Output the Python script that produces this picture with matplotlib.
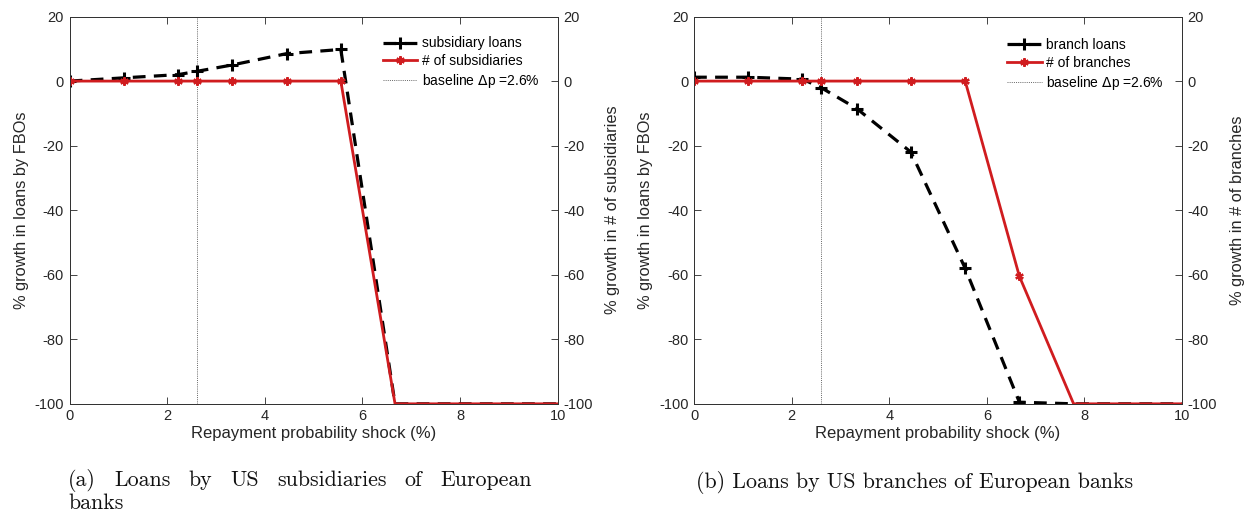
import numpy as np
import matplotlib.pyplot as plt

plt.rcParams['font.family'] = ['Liberation Sans', 'DejaVu Sans']

# shock grid (%)
shock = [0, 1.111, 2.222, 2.6, 3.333, 4.444, 5.556, 6.667, 7.778, 8.889, 10]
baseline = 2.6

# panel (a): subsidiaries
sub_loans = [0, 1.0, 2.0, 3.0, 5.0, 8.5, 9.8, -100, -100, -100, -100]
sub_count = [0, 0, 0, 0, 0, 0, 0, -100, -100, -100, -100]

# panel (b): branches
br_loans = [1.2, 1.2, 0.6, -2.0, -8.5, -22.0, -58.0, -99.5, -100, -100, -100]
br_count = [0, 0, 0, 0, 0, 0, 0, -60.5, -100, -100, -100]

xticks = [0, 2, 4, 6, 8, 10]
yticks = [20, 0, -20, -40, -60, -80, -100]

RED = '#d01c1f'
SPINE = '#333333'
TXT = '#262626'


def style(ax, right=False):
    ax.set_xlim(0, 10)
    ax.set_ylim(-100, 20)
    ax.set_xticks(xticks)
    ax.set_yticks(yticks)
    ax.set_yticklabels([str(t) for t in yticks])
    ax.tick_params(direction='in', length=5, width=0.6, labelsize=10.5,
                   colors=TXT, top=True, pad=4)
    if right:
        ax.tick_params(axis='y', left=False, right=True, labelleft=False, labelright=True)
    for s in ax.spines.values():
        s.set_color(SPINE)
        s.set_linewidth(0.7)


def inside(vals):
    # markers sitting on the -100 edge are clipped away in the original
    return [i for i, v in enumerate(vals) if v > -100]


def panel(ax, loans, count, loans_lbl, count_lbl, right_ylabel, leg_anchor):
    ax2 = ax.twinx()
    style(ax)
    style(ax2, right=True)
    ax.tick_params(axis='y', right=False)

    ax.axvline(baseline, color='#666666', lw=0.7, ls=(0, (1, 1.2)))
    h1, = ax.plot(shock, loans, color='black', lw=2.3, ls=(0, (4, 2.6)),
                  marker='+', ms=8, mew=2.2, markevery=inside(loans), label=loans_lbl)
    h2, = ax2.plot(shock, count, color=RED, lw=2.0,
                   marker=(6, 2, 0), ms=6, mew=1.6, markevery=inside(count), label=count_lbl)
    h3, = ax.plot([], [], color='#666666', lw=0.7, ls=(0, (1, 1.2)),
                  label='baseline $\\Delta$p =2.6%')

    ax.set_xlabel('Repayment probability shock (%)', fontsize=12, color=TXT, labelpad=2)
    ax.set_ylabel('% growth in loans by FBOs', fontsize=11.8, color=TXT, labelpad=4)
    ax2.set_ylabel(right_ylabel, fontsize=11.8, color=TXT, labelpad=9)

    ax.legend(handles=[h1, h2, h3], loc='upper left', bbox_to_anchor=leg_anchor,
              frameon=False, fontsize=10, handlelength=2.5, handletextpad=0.3,
              labelspacing=0.28, borderaxespad=0)


fig = plt.figure(figsize=(12.44, 5.12), dpi=100)
axa = fig.add_axes([0.0560, 0.2113, 0.3923, 0.7564])
axb = fig.add_axes([0.5579, 0.2113, 0.3923, 0.7564])

panel(axa, sub_loans, sub_count, 'subsidiary loans', '# of subsidiaries',
      '% growth in # of subsidiaries', (0.63, 0.963))
panel(axb, br_loans, br_count, 'branch loans', '# of branches',
      '% growth in # of branches', (0.63, 0.958))

cap = dict(family='cmr10', fontsize=15.8, color='#111111')


def justified(words, x0, x1, y):
    # spread the words of one caption line evenly between x0 and x1 (pixels)
    r = fig.canvas.get_renderer()
    items = [fig.text(0, 1 - y / 512, w, **cap) for w in words]
    widths = [t.get_window_extent(r).width for t in items]
    gap = (x1 - x0 - sum(widths)) / (len(words) - 1)
    x = x0
    for t, w in zip(items, widths):
        t.set_x(x / 1244)
        x += w + gap


justified(['(a)', 'Loans', 'by', 'US', 'subsidiaries', 'of', 'European'], 68, 532, 486)
fig.text(68 / 1244, 1 - 509 / 512, 'banks', **cap)
fig.text(915 / 1244, 1 - 488 / 512, '(b) Loans by US branches of European banks',
         ha='center', **cap)

fig.savefig('out.png', dpi=100)
